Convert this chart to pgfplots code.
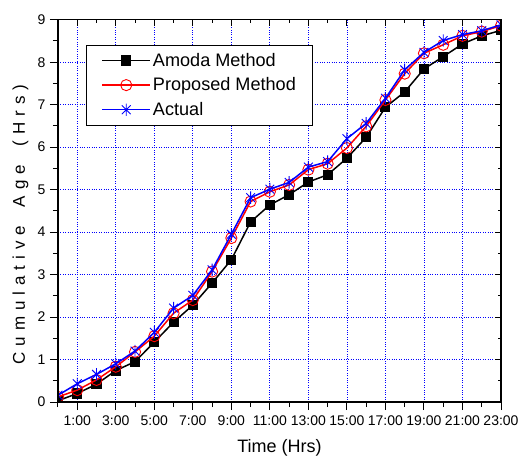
\documentclass[border=0pt]{standalone}
\usepackage{fontspec}
\setmainfont{Liberation Sans}
\newfontfamily\spacedfont[LetterSpace=35]{Liberation Sans}
\usepackage{pgfplots}
\pgfplotsset{compat=1.18}
\pgfdeclareplotmark{vstar}{%
  \pgfpathmoveto{\pgfqpoint{0pt}{\pgfplotmarksize}}%
  \pgfpathlineto{\pgfqpoint{0pt}{-\pgfplotmarksize}}%
  \pgfpathmoveto{\pgfqpoint{0.707\pgfplotmarksize}{0.707\pgfplotmarksize}}%
  \pgfpathlineto{\pgfqpoint{-0.707\pgfplotmarksize}{-0.707\pgfplotmarksize}}%
  \pgfpathmoveto{\pgfqpoint{-0.707\pgfplotmarksize}{0.707\pgfplotmarksize}}%
  \pgfpathlineto{\pgfqpoint{0.707\pgfplotmarksize}{-0.707\pgfplotmarksize}}%
  \pgfusepathqstroke}
\pgfplotstableread{
x amoda proposed actual
0 0.03 0.12 0.16
1 0.20 0.28 0.43
2 0.42 0.52 0.65
3 0.74 0.83 0.90
4 0.95 1.18 1.20
5 1.41 1.55 1.64
6 1.88 2.09 2.21
7 2.28 2.40 2.51
8 2.80 3.07 3.11
9 3.35 3.86 3.95
10 4.24 4.72 4.81
11 4.64 4.95 5.01
12 4.88 5.11 5.17
13 5.18 5.47 5.53
14 5.35 5.61 5.66
15 5.74 5.98 6.20
16 6.23 6.49 6.56
17 6.94 7.11 7.15
18 7.30 7.73 7.82
19 7.84 8.21 8.23
20 8.13 8.41 8.51
21 8.43 8.62 8.65
22 8.62 8.72 8.74
23 8.75 8.86 8.88
}\datatable
\begin{document}
\begin{tikzpicture}
\path[use as bounding box] (-58pt,-54pt) rectangle (461pt,402pt);
\begin{axis}[
  scale only axis, width=443pt, height=382.3pt,
  xmin=0, xmax=23, ymin=0, ymax=9,
  axis line style={line width=1.3pt},
  xtick={1,3,...,23},
  xticklabels={1:00,3:00,5:00,7:00,9:00,11:00,13:00,15:00,17:00,19:00,21:00,23:00},
  minor xtick={0,2,...,22},
  ytick={0,1,...,9},
  minor ytick={0.5,1.5,...,8.5},
  xtick pos=bottom, ytick pos=left,
  tick align=outside,
  major tick length=8pt, minor tick length=5pt,
  tick style={line width=1pt, black},
  grid=major,
  major grid style={blue, dotted, line width=0.8pt},
  /pgf/number format/assume math mode=true,
  tick label style={font=\fontsize{14}{16}\selectfont},
  xticklabel style={yshift=-2pt},
  yticklabel style={xshift=-1pt},
  every axis x label/.style={at={(axis description cs:0.5,-0.133)}, anchor=base},
  every axis y label/.style={at={(axis description cs:-0.0745,0.464)}, anchor=base, rotate=90},
  xlabel={\fontsize{18}{20}\selectfont Time (Hrs)},
  ylabel={\fontsize{17}{20}\spacedfont Cumulative\hspace{8pt} Age\hspace{8pt} (Hrs)},
  clip marker paths=true,
  legend cell align=left,
  legend style={at={(0.0632,0.9346)}, anchor=north west, draw=black, line width=1pt,
    font=\fontsize{18.1}{21}\selectfont, inner xsep=15pt, inner ysep=6pt,
    row sep=6pt},
  legend image code/.code={%
    \draw[#1, mark repeat=2, mark phase=2] plot coordinates {(0pt,0pt) (24pt,0pt) (48pt,0pt)};},
]
\addplot[black, line width=1.5pt, mark=square*, mark size=4.3pt, mark options={solid}] table[x=x,y=amoda] {\datatable};
\addlegendentry{Amoda Method}
\addplot[red, line width=1.5pt, mark=o, mark size=5.6pt, mark options={solid, line width=0.9pt}] table[x=x,y=proposed] {\datatable};
\addlegendentry{Proposed Method}
\addplot[blue, line width=1.5pt, mark=vstar, mark size=6.2pt, mark options={solid, line width=0.9pt}] table[x=x,y=actual] {\datatable};
\addlegendentry{Actual}
\end{axis}
\begin{axis}[
  scale only axis, width=443pt, height=382.3pt,
  xmin=0, xmax=23, ymin=0, ymax=9,
  axis line style={line width=1.3pt},
  xtick={1,3,...,23}, minor xtick={0,2,...,22},
  ytick={0,1,...,9}, minor ytick={0.5,1.5,...,8.5},
  xtick pos=top, ytick pos=right,
  tick align=inside,
  major tick length=6pt, minor tick length=3.5pt,
  tick style={line width=1pt, black},
  xticklabels={}, yticklabels={},
]
\end{axis}
\end{tikzpicture}
\end{document}
